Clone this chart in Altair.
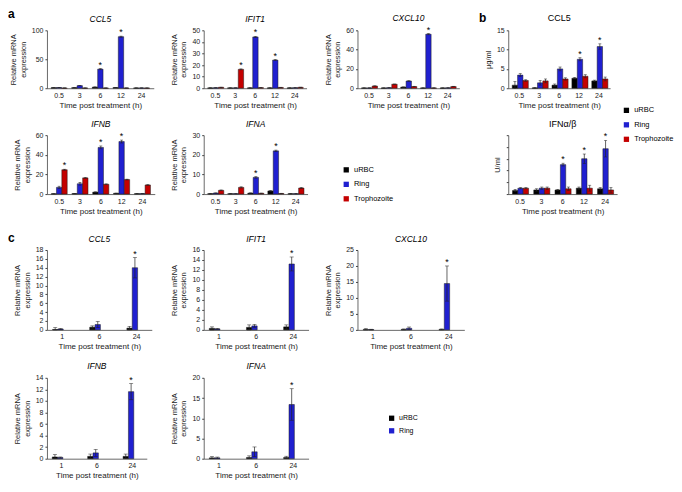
import altair as alt
import pandas as pd

FONT = "Liberation Sans"

GROUPS3 = ["uRBC", "Ring", "Trophozoite"]
GROUPS2 = ["uRBC", "Ring"]
COLORS3 = ["#000000", "#2020d0", "#c40000"]
COLORS2 = ["#000000", "#2020d0"]

times_a = ["0.5", "3", "6", "12", "24"]
times_c = ["1", "6", "24"]

# ---------------- panel a (relative mRNA expression) ----------------
a_ccl5_val = [[1.0, 1.0, 2.0, 1.2, 0.5],
              [1.2, 4.5, 33.0, 89.0, 0.5],
              [0.4, 0.4, 0.4, 0.4, 0.4]]
a_ccl5_err = [[0.2, 0.2, 0.3, 0.2, 0.1],
              [0.2, 0.3, 1.0, 1.0, 0.1],
              [0.1, 0.1, 0.1, 0.1, 0.1]]
a_ccl5_sig = [("Ring", "6"), ("Ring", "12")]

a_ifit1_val = [[0.3, 0.3, 0.3, 0.3, 0.3],
               [0.4, 0.3, 44.3, 24.3, 0.4],
               [0.8, 16.3, 0.5, 0.7, 0.8]]
a_ifit1_err = [[0.1, 0.1, 0.1, 0.1, 0.1],
               [0.1, 0.1, 0.5, 0.5, 0.1],
               [0.1, 0.4, 0.1, 0.1, 0.1]]
a_ifit1_sig = [("Trophozoite", "3"), ("Ring", "6"), ("Ring", "12")]

a_cxcl10_val = [[0.3, 0.3, 1.2, 0.3, 0.3],
                [0.3, 0.5, 7.5, 56.0, 0.4],
                [2.3, 4.2, 1.8, 0.3, 1.8]]
a_cxcl10_err = [[0.1, 0.1, 0.2, 0.1, 0.1],
                [0.1, 0.1, 0.4, 0.6, 0.1],
                [0.2, 0.2, 0.2, 0.1, 0.2]]
a_cxcl10_sig = [("Ring", "12")]

a_ifnb_val = [[0.3, 0.5, 2.0, 0.8, 0.4],
              [6.8, 10.5, 47.5, 53.5, 0.5],
              [24.8, 16.5, 10.0, 14.8, 9.3]]
a_ifnb_err = [[0.1, 0.2, 0.3, 0.2, 0.1],
              [1.2, 1.5, 1.5, 1.5, 0.1],
              [0.5, 0.5, 0.4, 0.4, 0.4]]
a_ifnb_sig = [("Trophozoite", "0.5"), ("Ring", "6"), ("Ring", "12")]

a_ifna_val = [[0.2, 0.2, 0.5, 1.6, 0.2],
              [0.5, 0.2, 8.5, 22.0, 0.2],
              [1.9, 3.4, 0.4, 0.3, 3.1]]
a_ifna_err = [[0.1, 0.1, 0.1, 0.2, 0.1],
              [0.1, 0.1, 0.4, 0.4, 0.1],
              [0.2, 0.3, 0.1, 0.1, 0.3]]
a_ifna_sig = [("Ring", "6"), ("Ring", "12")]

# ---------------- panel b (secreted protein) ----------------
b_ccl5_val = [[0.8, 0.1, 0.8, 2.6, 1.9],
              [3.4, 1.4, 5.0, 7.5, 10.8],
              [2.0, 1.9, 2.4, 3.1, 2.4]]
b_ccl5_err = [[0.9, 0.1, 0.3, 0.2, 0.2],
              [0.4, 0.6, 0.5, 0.4, 0.7],
              [0.2, 0.5, 0.3, 0.4, 0.5]]
b_ccl5_sig = [("Ring", "12"), ("Ring", "24")]

b_ifn_val = [[0.3, 0.35, 0.35, 0.5, 0.45],
             [0.5, 0.5, 2.5, 3.0, 3.85],
             [0.5, 0.5, 0.45, 0.5, 0.35]]
b_ifn_err = [[0.1, 0.1, 0.05, 0.1, 0.1],
             [0.05, 0.1, 0.12, 0.4, 0.7],
             [0.05, 0.1, 0.15, 0.25, 0.2]]
b_ifn_sig = [("Ring", "6"), ("Ring", "12"), ("Ring", "24")]

# ---------------- panel c ----------------
c_ccl5_val = [[0.1, 0.6, 0.4], [0.2, 1.2, 14.0]]
c_ccl5_err = [[0.4, 0.3, 0.4], [0.1, 0.7, 2.3]]
c_ifit1_val = [[0.3, 0.5, 0.6], [0.2, 0.8, 13.2]]
c_ifit1_err = [[0.3, 0.5, 0.4], [0.1, 0.3, 1.4]]
c_cxcl10_val = [[0.1, 0.1, 0.1], [0.1, 0.5, 14.5]]
c_cxcl10_err = [[0.3, 0.2, 0.2], [0.1, 0.4, 5.5]]
c_ifnb_val = [[0.3, 0.4, 0.4], [0.2, 1.0, 11.6]]
c_ifnb_err = [[0.4, 0.4, 0.4], [0.1, 0.6, 1.4]]
c_ifna_val = [[0.2, 0.3, 0.3], [0.2, 1.7, 13.4]]
c_ifna_err = [[0.3, 0.4, 0.3], [0.2, 1.2, 3.9]]
c_sig = [("Ring", "24")]

panel_letters = ["a", "b", "c"]

REL = ["Relative mRNA", "expression"]
XT = "Time post treatment (h)"


def make_df(times, groups, vals, errs, sig):
    rows = []
    for gi, g in enumerate(groups):
        for ti, t in enumerate(times):
            v = vals[gi][ti]
            e = errs[gi][ti]
            rows.append(dict(time=t, group=g, v=v, lo=max(v - e, 0.0), hi=v + e,
                             sig=(g, t) in sig))
    return pd.DataFrame(rows)


def panel(df, times, groups, colors, ymax, yvals, title, ytitle, w, h, pi, po,
          italic=True, legend=None, ylabels=True, capsize=3, tsize=8.5,
          toffset=3):
    base = alt.Chart(df)
    xdef = alt.X("time:N", sort=times,
                 scale=alt.Scale(paddingInner=pi, paddingOuter=po),
                 axis=alt.Axis(title=XT, labelAngle=0, ticks=False, tickSize=0,
                               labelPadding=3, titlePadding=3, titleFontSize=8,
                               labelFontSize=7))
    xo = alt.XOffset("group:N", sort=groups,
                     scale=alt.Scale(paddingInner=0, paddingOuter=0))
    yax = alt.Axis(values=yvals, title=ytitle, labels=ylabels, tickSize=2,
                   labelPadding=2, titlePadding=4, titleFontSize=7.5,
                   labelFontSize=7, titleLineHeight=9.5)
    ysc = alt.Scale(domain=[0, ymax], nice=False, zero=True)

    def Y(f):
        return alt.Y(f, scale=ysc, axis=yax)

    bars = base.mark_bar(stroke="#1a1a1a", strokeWidth=0.5).encode(
        x=xdef, xOffset=xo, y=Y("v:Q"),
        color=alt.Color("group:N", sort=groups,
                        scale=alt.Scale(domain=groups, range=colors),
                        legend=legend))
    rule = base.mark_rule(color="#222222", strokeWidth=0.7).encode(
        x=xdef, xOffset=xo, y=Y("lo:Q"), y2="hi:Q")
    cap_hi = base.mark_tick(color="#222222", thickness=0.7, size=capsize).encode(
        x=xdef, xOffset=xo, y=Y("hi:Q"))
    cap_lo = base.mark_tick(color="#222222", thickness=0.7, size=capsize).encode(
        x=xdef, xOffset=xo, y=Y("lo:Q"))
    star = base.transform_filter("datum.sig").mark_text(
        text="*", fontSize=9, baseline="alphabetic", dy=-1, font=FONT).encode(
        x=xdef, xOffset=xo, y=Y("hi:Q"))
    return alt.layer(bars, rule, cap_hi, cap_lo, star).properties(
        width=w, height=h,
        title=alt.Title(title, fontSize=tsize,
                        fontStyle="italic" if italic else "normal",
                        fontWeight="normal", font=FONT, offset=toffset,
                        anchor="middle", frame="group"))


def spacer(w, h, letter=None, lx=0, ly=0):
    if letter is None:
        return alt.Chart(pd.DataFrame({"s": [0]})).mark_point(
            opacity=0, size=1).encode(x=alt.value(0), y=alt.value(0)).properties(
            width=w, height=h)
    return alt.Chart(pd.DataFrame({"t": [letter]})).mark_text(
        align="left", baseline="top", fontSize=12, fontWeight="bold",
        font=FONT).encode(text="t:N", x=alt.value(lx), y=alt.value(ly)).properties(
        width=w, height=h)


def leg(x, y, fs=7.5, rp=5.5):
    return alt.Legend(orient="none", legendX=x, legendY=y, title=None,
                      symbolType="square", symbolSize=28, labelFontSize=fs,
                      labelFont=FONT, rowPadding=rp, padding=0, labelOffset=4,
                      symbolStrokeWidth=0)


PI_A, PO_A = 0.22, 0.2
PI_C, PO_C = 0.48, 0.15

h1, h2, h3, h4 = 58, 59, 80, 81

P1 = panel(make_df(times_a, GROUPS3, a_ccl5_val, a_ccl5_err, a_ccl5_sig),
           times_a, GROUPS3, COLORS3, 100, [0, 50, 100], "CCL5", REL,
           107, h1, PI_A, PO_A)
P2 = panel(make_df(times_a, GROUPS3, a_ifit1_val, a_ifit1_err, a_ifit1_sig),
           times_a, GROUPS3, COLORS3, 50, [0, 10, 20, 30, 40, 50], "IFIT1", REL,
           103, h1, PI_A, PO_A)
P3 = panel(make_df(times_a, GROUPS3, a_cxcl10_val, a_cxcl10_err, a_cxcl10_sig),
           times_a, GROUPS3, COLORS3, 60, [0, 20, 40, 60], "CXCL10", REL,
           102, h1, PI_A, PO_A)
P4 = panel(make_df(times_a, GROUPS3, b_ccl5_val, b_ccl5_err, b_ccl5_sig),
           times_a, GROUPS3, COLORS3, 15, [0, 5, 10, 15], "CCL5", "µg/ml",
           102, h1, 0.28, 0.2, italic=False, tsize=9,
           legend=leg(114.6, 76.4))

P5 = panel(make_df(times_a, GROUPS3, a_ifnb_val, a_ifnb_err, a_ifnb_sig),
           times_a, GROUPS3, COLORS3, 60, [0, 20, 40, 60], "IFNB", REL,
           108, h2, PI_A, PO_A)
P6 = panel(make_df(times_a, GROUPS3, a_ifna_val, a_ifna_err, a_ifna_sig),
           times_a, GROUPS3, COLORS3, 30, [0, 10, 20, 30], "IFNA", REL,
           104, h2, PI_A, PO_A, legend=leg(139, 31))
P7 = panel(make_df(times_a, GROUPS3, b_ifn_val, b_ifn_err, b_ifn_sig),
           times_a, GROUPS3, COLORS3, 5, [0, 1, 2, 3, 4, 5], "IFNα/β", "U/ml",
           109, h2, 0.28, 0.2, italic=False, tsize=9, ylabels=False)

P8 = panel(make_df(times_c, GROUPS2, c_ccl5_val, c_ccl5_err, c_sig),
           times_c, GROUPS2, COLORS2, 18, list(range(0, 19, 2)), "CCL5", REL,
           105, h3, PI_C, PO_C, capsize=4)
P9 = panel(make_df(times_c, GROUPS2, c_ifit1_val, c_ifit1_err, c_sig),
           times_c, GROUPS2, COLORS2, 16, list(range(0, 17, 2)), "IFIT1", REL,
           105, h3, PI_C, PO_C, capsize=4)
P10 = panel(make_df(times_c, GROUPS2, c_cxcl10_val, c_cxcl10_err, c_sig),
            times_c, GROUPS2, COLORS2, 25, [0, 5, 10, 15, 20, 25], "CXCL10", REL,
            107, h3, PI_C, PO_C, capsize=4)

P11 = panel(make_df(times_c, GROUPS2, c_ifnb_val, c_ifnb_err, c_sig),
            times_c, GROUPS2, COLORS2, 14, list(range(0, 15, 2)), "IFNB", REL,
            100, h4, PI_C, PO_C, capsize=4)
P12 = panel(make_df(times_c, GROUPS2, c_ifna_val, c_ifna_err, c_sig),
            times_c, GROUPS2, COLORS2, 20, [0, 5, 10, 15, 20], "IFNA", REL,
            105, h4, PI_C, PO_C, capsize=4, legend=leg(184.7, 37, fs=7, rp=4.6))

NC = 8
S = spacer


def vrow(h):
    return [S(1, h) for _ in range(NC)]


cells = [
    S(1, h1, panel_letters[0], -38, -21), P1, S(49, h1), P2, S(49, h1), P3,
    S(43.7, h1, panel_letters[1], 14.7, -17), P4,
    *vrow(47),
    S(1, h2), P5, S(49, h2), P6, S(49, h2), S(1, h2), S(43.7, h2), P7,
    *vrow(56),
    S(1, h3, panel_letters[2], -38, -17), P8, S(49, h3), P9, S(49, h3), P10,
    S(1, h3), S(1, h3),
    *vrow(48),
    S(1, h4), P11, S(49, h4), P12, S(1, h4), S(1, h4), S(1, h4), S(1, h4),
]

chart = alt.concat(*cells, columns=NC, spacing=0, bounds="flush", align="each",
                   padding=0)
chart = chart.resolve_scale(color="independent").resolve_legend(color="independent")
chart = chart.configure_view(stroke=None).configure_axis(
    grid=False, domainColor="#444444", tickColor="#444444", domainWidth=0.8,
    labelFont=FONT, titleFont=FONT, labelColor="#1a1a1a", titleColor="#1a1a1a",
    titleFontWeight="normal").configure_title(font=FONT)

chart.save("out.html", embed_options={"renderer": "svg", "actions": False})
